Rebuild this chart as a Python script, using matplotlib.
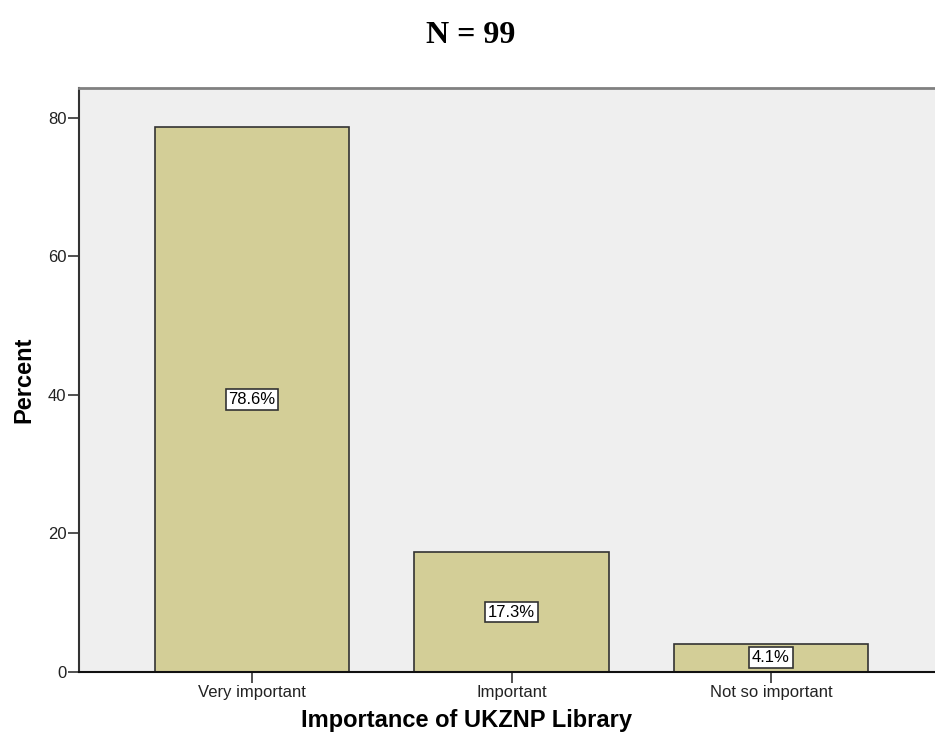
import matplotlib.pyplot as plt
import numpy as np

categories = ['Very important', 'Important', 'Not so important']
percents = [78.6, 17.3, 4.1]
title = 'N = 99'

bar_color = '#D3CE97'
bg_color = '#EFEFEF'

fig = plt.figure(figsize=(9.35, 7.38), dpi=100)
ax = fig.add_axes([0.0845, 0.0894, 0.9155, 0.7914])
ax.set_facecolor(bg_color)

locs = np.arange(len(categories))
ax.bar(locs, percents, width=0.75, color=bar_color, edgecolor='#333333', linewidth=1.2, zorder=2)

# value labels in white boxes at bar middle
for x, v in zip(locs, percents):
    ax.text(x, v / 2, '%.1f%%' % v, ha='center', va='center', fontsize=12,
            family='Liberation Sans', zorder=3,
            bbox=dict(boxstyle='square,pad=0.17', facecolor='white', edgecolor='#333333', linewidth=1.2))

ax.set_xlim(-0.667, 2.632)
ax.set_ylim(0, 84.3)
ax.set_yticks([0, 20, 40, 60, 80])
ax.set_xticks(locs)
ax.set_xticklabels(categories, fontsize=12, family='Liberation Sans', color='#222222')
for lab in ax.get_yticklabels():
    lab.set_fontsize(12)
    lab.set_family('Liberation Sans')
    lab.set_color('#222222')
ax.tick_params(axis='both', direction='out', length=8, width=1.2, color='#333333', pad=1)

ax.spines['right'].set_visible(False)
ax.spines['top'].set_color('#808080')
ax.spines['top'].set_linewidth(2)
ax.spines['left'].set_color('#333333')
ax.spines['left'].set_linewidth(1.5)
ax.spines['bottom'].set_color('#111111')
ax.spines['bottom'].set_linewidth(1.5)

ax.set_ylabel('Percent', fontsize=17, fontweight='bold', family='Liberation Sans', labelpad=9)
fig.text(0.4985, 0.024, 'Importance of UKZNP Library', ha='center', va='center',
         fontsize=17, fontweight='bold', family='Liberation Sans')
fig.text(0.503, 0.952, title, ha='center', va='center', fontsize=23,
         fontweight='bold', family='Liberation Serif')

fig.savefig('out.png', dpi=100)
